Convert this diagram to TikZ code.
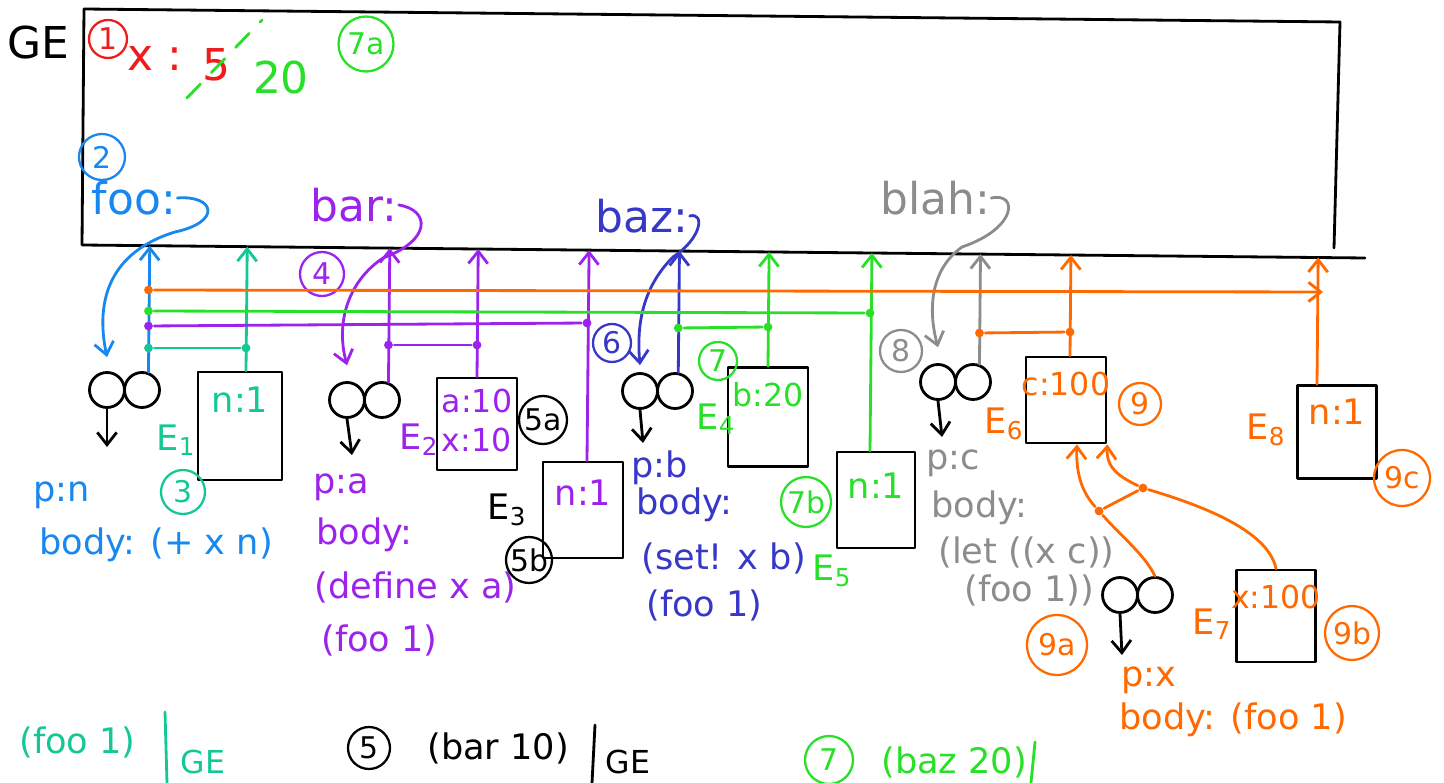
\documentclass[tikz,border=0pt]{standalone}
\usepackage{fontspec}
\setmainfont{DejaVu Sans}
\usetikzlibrary{arrows.meta,positioning,calc}
\definecolor{cred}{HTML}{EE1C1C}
\definecolor{cgreen}{HTML}{28E028}
\definecolor{cteal}{HTML}{14C896}
\definecolor{cblue}{HTML}{1987F0}
\definecolor{cpurple}{HTML}{9B23EB}
\definecolor{cindigo}{HTML}{3737C8}
\definecolor{cgrey}{HTML}{8C8C8C}
\definecolor{corange}{HTML}{FF6900}

\begin{document}
\begin{tikzpicture}[x=0.02cm, y=-0.02cm, line width=1.6pt, line cap=round, line join=round,
  >={Straight Barb[length=7pt,width=11pt]},
  hw/.style={inner sep=0pt, font=\fontsize{20}{24}\selectfont},
  hwsmall/.style={inner sep=0pt, font=\fontsize{18}{22}\selectfont},
  hwbig/.style={inner sep=0pt, font=\fontsize{25}{28}\selectfont},
  numtag/.style={circle, draw, line width=1.3pt, inner sep=0pt, minimum size=0.8cm, font=\fontsize{17}{19}\selectfont},
  procball/.style={circle, draw=black, inner sep=0pt, minimum size=0.7cm},
  envbox/.style={draw=black, inner sep=0pt, minimum width=1.6cm},
  jdot/.style={circle, fill, inner sep=0pt, minimum size=5pt}]
  \useasboundingbox (0,0) rectangle (1444,783);

  % global frame
  \coordinate (getl) at (84,9);
  \coordinate (getr) at (1340,22);
  \coordinate (gebl) at (82,245);
  \coordinate (gebr) at (1365,258);
  \draw (getl) -- (getr) -- (1334,248);
  \draw (getl) -- (gebl) -- (gebr);
  \node[hwbig] (ge) at (38,43) {GE};

  \node[numtag, cred, minimum size=0.76cm] (t1) at (108,39) {1};
  \node[hwbig, cred] (xv) at (155,58) {x :};
  \node[hwbig, cred] (five) at (216,65) {5};
  \draw[cgreen, dash pattern=on 11pt off 9pt] (187,98) -- (262,20);
  \node[hwbig, cgreen] (twenty) at (281,78) {20};
  \node[numtag, cgreen, minimum size=1.1cm] (t7a) at (366,44) {7a};
  \node[numtag, cblue, minimum size=0.92cm] (t2) at (102,157) {2};
  \node[hwbig, cblue] (foo) at (134,198) {foo:};
  \node[hwbig, cpurple] (bar) at (354,205) {bar:};
  \node[hwbig, cindigo] (baz) at (642,216) {baz:};
  \node[hwbig, cgrey] (blah) at (935,198) {blah:};

  % procedure objects
  \foreach \p/\x/\y in {foo/107/390, bar/347/400, baz/640/391, blah/938/382, let/1120/595}{
    \node[procball] (\p L) at (\x,\y) {};
    \node[procball] (\p R) at (\x+35,\y) {};
  }
  \coordinate (fooD) at (107,447);
  \coordinate (barD) at (352,455);
  \coordinate (bazD) at (643,443);
  \coordinate (blahD) at (942,437);
  \coordinate (letD) at (1122,655);
  \foreach \p in {foo,bar,baz,blah,let}
    \draw[->] (\p L.south) -- (\p D);

  \node[hw, cblue, anchor=west] (fooP) at (32,495) {p:n};
  \node[hw, cblue, anchor=west] (fooB) at (38,545) {body: (+ x n)};
  \node[numtag, cpurple, minimum size=0.88cm] (t4) at (322,274) {4};
  \node[hw, cpurple, anchor=west] (barP) at (312,487) {p:a};
  \node[hw, cpurple, anchor=west] (barB) at (315,535) {body:};
  \node[hw, cpurple, anchor=west] (barB2) at (313,587) {(define x a)};
  \node[hw, cpurple, anchor=west] (barB3) at (320,640) {(foo 1)};
  \node[numtag, cindigo, minimum size=0.76cm] (t6) at (612,343) {6};
  \node[hw, cindigo, anchor=west] (bazP) at (630,468) {p:b};
  \node[hw, cindigo, anchor=west] (bazB) at (635,505) {body:};
  \node[hw, cindigo, anchor=west] (bazB2) at (640,558) {(set! x b)};
  \node[hw, cindigo, anchor=west] (bazB3) at (645,605) {(foo 1)};
  \node[numtag, cgrey, minimum size=0.84cm] (t8) at (901,351) {8};
  \node[hw, cgrey, anchor=west] (blahP) at (925,463) {p:c};
  \node[hw, cgrey, anchor=west] (blahB) at (930,508) {body:};
  \node[hw, cgrey, anchor=west] (blahB2) at (937,552) {(let ((x c))};
  \node[hw, cgrey, anchor=west] (blahB3) at (963,590) {(foo 1))};
  \node[numtag, corange, minimum size=1.2cm] (t9a) at (1057,645) {9a};
  \node[hw, corange, anchor=west] (letP) at (1120,680) {p:x};
  \node[hw, corange, anchor=west] (letB) at (1118,720) {body: (foo 1)};

  % frames
  \node[envbox, minimum width=1.68cm, minimum height=2.16cm] (E1) at (240,426) {};
  \node[hw, cteal, below=0.3cm of E1.north] (E1b) {n:1};
  \node[hw, cteal] (E1n) at (176,440) {E\textsubscript{1}};
  \node[numtag, cteal, minimum size=0.88cm] (t3) at (183,492) {3};

  \node[envbox, minimum height=1.84cm] (E2) at (477,424) {};
  \node[hwsmall, cpurple, align=left, below=0.22cm of E2.north] (E2b) {a:10\\x:10};
  \node[hw, cpurple] (E2n) at (419,440) {E\textsubscript{2}};
  \node[numtag, minimum size=0.96cm] (t5a) at (543,420) {5a};

  \node[envbox, minimum height=1.92cm] (E3) at (583,510) {};
  \node[hw, cpurple, below=0.36cm of E3.north] (E3b) {n:1};
  \node[hw] (E3n) at (507,510) {E\textsubscript{3}};
  \node[numtag, minimum size=0.92cm] (t5b) at (529,560) {5b};

  \node[envbox, minimum height=1.98cm] (E4) at (768,417) {};
  \node[hwsmall, cgreen, below=0.3cm of E4.north] (E4b) {b:20};
  \node[hw, cgreen] (E4n) at (716,419) {E\textsubscript{4}};
  \node[numtag, cgreen, minimum size=0.76cm] (t7) at (718,361) {7};

  \node[envbox, minimum width=1.56cm, minimum height=1.92cm] (E5) at (876,500) {};
  \node[hw, cgreen, below=0.42cm of E5.north] (E5b) {n:1};
  \node[hw, cgreen] (E5n) at (832,571) {E\textsubscript{5}};
  \node[numtag, cgreen, minimum size=1cm] (t7b) at (806,502) {7b};

  \node[envbox, minimum height=1.72cm] (E6) at (1066,400) {};
  \node[hwsmall, corange, below=0.3cm of E6.north] (E6b) {c:100};
  \node[hw, corange] (E6n) at (1004,424) {E\textsubscript{6}};
  \node[numtag, corange, minimum size=0.84cm] (t9) at (1140,404) {9};

  \node[envbox, minimum width=1.58cm, minimum height=1.84cm] (E7) at (1276,616) {};
  \node[hwsmall, corange, below=0.3cm of E7.north] (E7b) {x:100};
  \node[hw, corange] (E7n) at (1212,624) {E\textsubscript{7}};
  \node[numtag, corange, minimum size=1.08cm] (t9b) at (1352,633) {9b};

  \node[envbox, minimum width=1.58cm, minimum height=1.86cm] (E8) at (1337,432) {};
  \node[hw, corange, below=0.26cm of E8.north] (E8b) {n:1};
  \node[hw, corange] (E8n) at (1266,430) {E\textsubscript{8}};
  \node[numtag, corange, minimum size=1.12cm] (t9c) at (1402,478) {9c};

  % bindings in GE to procedures
  \draw[->, cblue] (foo.east) .. controls (215,195) and (222,222) .. (175,232) .. controls (110,252) and (95,300) .. ([yshift=8pt]fooL.north);
  \draw[->, cpurple] (bar.east) .. controls (430,210) and (432,240) .. (383,258) .. controls (350,280) and (335,320) .. ([yshift=9pt]barL.north);
  \draw[->, cindigo] (baz.east) .. controls (705,212) and (702,238) .. (673,257) .. controls (645,285) and (636,320) .. ([yshift=4pt]bazL.north);
  \draw[->, cgrey] (blah.east) .. controls (1018,192) and (1018,228) .. (962,247) .. controls (930,270) and (928,310) .. ([yshift=9pt]blahL.north);

  % parent pointers
  \coordinate (pfoo) at (fooR.70);
  \coordinate (pbar) at (barR.70);
  \coordinate (pbaz) at (bazR.80);
  \coordinate (pblah) at (blahR.70);
  \coordinate (pE1) at ($(E1.north)+(6,0)$);
  \coordinate (pE2) at (E2.north);
  \coordinate (pE3) at ($(E3.north)+(4,0)$);
  \coordinate (pE4) at (E4.north);
  \coordinate (pE5) at ($(E5.north)+(-6,0)$);
  \coordinate (pE6) at ($(E6.north)+(4,0)$);
  \coordinate (pE8) at ($(E8.north)+(-20,0)$);
  \foreach \p/\c in {pfoo/cblue, pE1/cteal, pbar/cpurple, pE2/cpurple, pE3/cpurple,
                     pbaz/cindigo, pE4/cgreen, pE5/cgreen, pblah/cgrey, pE6/corange, pE8/corange}
    \draw[->, \c] (\p) -- ($(gebl)!(\p)!(gebr)$);

  % shared links
  \node[jdot, cteal] (d1a) at (pfoo |- 0,348) {};
  \node[jdot, cteal] (d1b) at (pE1 |- 0,348) {};
  \draw[cteal] (d1a) -- (d1b);
  \node[jdot, cpurple] (d2a) at (pbar |- 0,345) {};
  \node[jdot, cpurple] (d2b) at (pE2 |- 0,345) {};
  \draw[cpurple] (d2a) -- (d2b);
  \node[jdot, cpurple] (d3a) at (pfoo |- 0,326) {};
  \node[jdot, cpurple] (d3b) at (pE3 |- 0,323) {};
  \draw[cpurple] (d3a) -- (d3b);
  \node[jdot, cgreen] (d4a) at (pbaz |- 0,328) {};
  \node[jdot, cgreen] (d4b) at (pE4 |- 0,327) {};
  \draw[cgreen] (d4a) -- (d4b);
  \node[jdot, cgreen] (d5a) at (pfoo |- 0,311) {};
  \node[jdot, cgreen] (d5b) at (pE5 |- 0,313) {};
  \draw[cgreen] (d5a) -- (d5b);
  \node[jdot, corange] (d6a) at (pblah |- 0,333) {};
  \node[jdot, corange] (d6b) at (pE6 |- 0,332) {};
  \draw[corange] (d6a) -- (d6b);
  \node[jdot, corange] (d8a) at (pfoo |- 0,290) {};
  \coordinate (d8b) at ($(pE8 |- 0,292)+(6,0)$);
  \draw[->, corange] (d8a) -- (d8b);

  % let lambda and E7 into E6
  \node[jdot, corange] (k1) at (1099,511) {};
  \node[jdot, corange] (k2) at (1143,488) {};
  \draw[corange] (letR.north) .. controls (1145,555) and (1120,535) .. (k1);
  \draw[->, corange] (k1) .. controls (1080,490) and (1076,470) .. ($(E6.south)+(11,0)$);
  \draw[corange] (E7.north) .. controls (1268,530) and (1200,505) .. (k2);
  \draw[->, corange] (k2) .. controls (1115,475) and (1106,465) .. (E6.south east);
  \draw[corange] (k1) -- (k2);

  % calls
  \node[hw, cteal, anchor=west] (call1) at (18,742) {(foo 1)};
  \draw[cteal] (165,712) -- (167,783);
  \node[hwsmall, cteal] (call1g) at (203,762) {GE};
  \node[numtag, minimum size=0.84cm] (t5) at (369,748) {5};
  \node[hw, anchor=west] (call2) at (426,748) {(bar 10)};
  \draw (595,725) -- (592,783);
  \node[hwsmall] (call2g) at (628,762) {GE};
  \node[numtag, cgreen, minimum size=0.96cm] (t7c) at (829,760) {7};
  \node[hw, cgreen, anchor=west] (call3) at (880,762) {(baz 20)};
  \draw[cgreen] (1035,742) -- (1031,783);
\end{tikzpicture}
\end{document}
